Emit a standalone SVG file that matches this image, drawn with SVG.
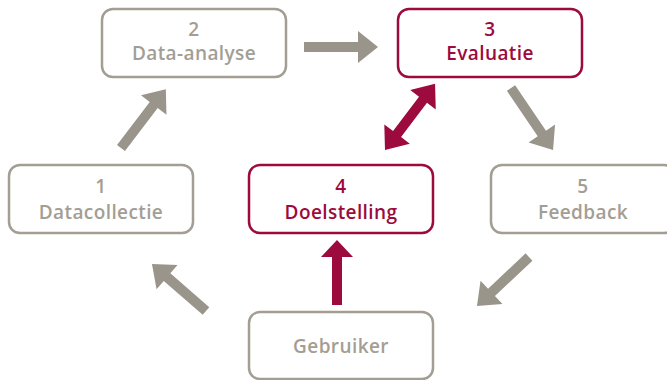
<svg xmlns="http://www.w3.org/2000/svg" width="667" height="380" viewBox="0 0 667 380">
<style>
.box{fill:#fff;stroke-width:2.5}
.g{stroke:#a39e94}
.r{stroke:#9c0a3e}
.t{font-family:"Open Sans",Lato,"Liberation Sans",sans-serif;font-weight:600;font-size:19px;letter-spacing:0.4px;text-anchor:middle}
.tg{fill:#a39e94}
.tr{fill:#9c0a3e}
.ag{fill:#99958a}
.ar{fill:#9c0a3e}
</style>
<rect width="667" height="380" fill="#fff"/>
<g id="connectors">
<polygon class="ag" transform="translate(304,47)" points="0,-5 54,-5 54,-16 74,0 54,16 54,5 0,5"/>
<polygon class="ag" transform="translate(511,88) rotate(55.9)" points="0,-5 55,-5 55,-16 75,0 55,16 55,5 0,5"/>
<polygon class="ag" transform="translate(529,257) rotate(136.7)" points="0,-5 51.5,-5 51.5,-16 71.5,0 51.5,16 51.5,5 0,5"/>
<polygon class="ag" transform="translate(206,311) rotate(221)" points="0,-5 51.6,-5 51.6,-16 71.6,0 51.6,16 51.6,5 0,5"/>
<polygon class="ag" transform="translate(121,148) rotate(-52.7)" points="0,-5 54,-5 54,-16 74,0 54,16 54,5 0,5"/>
<polygon class="ar" transform="translate(337,305) rotate(-90)" points="0,-5 48,-5 48,-16 65,0 48,16 48,5 0,5"/>
<polygon class="ar" transform="translate(385,150) rotate(-52.9)" points="0,0 20,-16 20,-5 63,-5 63,-16 83,0 63,16 63,5 20,5 20,16"/>
</g>
<g id="node1">
<rect class="box g" x="9" y="165" width="184" height="68" rx="11"/>
<text class="t tg" x="101" y="193">1</text>
<text class="t tg" x="101" y="219">Datacollectie</text>
</g>
<g id="node2">
<rect class="box g" x="102" y="9" width="184" height="68" rx="11"/>
<text class="t tg" x="194" y="36">2</text>
<text class="t tg" x="194" y="60">Data-analyse</text>
</g>
<g id="node3">
<rect class="box r" x="398" y="9" width="184" height="68" rx="11"/>
<text class="t tr" x="490" y="36">3</text>
<text class="t tr" x="490" y="60">Evaluatie</text>
</g>
<g id="node4">
<rect class="box r" x="249" y="165" width="184" height="68" rx="11"/>
<text class="t tr" x="341" y="193">4</text>
<text class="t tr" x="341" y="219">Doelstelling</text>
</g>
<g id="node5">
<rect class="box g" x="491" y="165" width="184" height="68" rx="11"/>
<text class="t tg" x="583" y="193">5</text>
<text class="t tg" x="583" y="219">Feedback</text>
</g>
<g id="gebruiker">
<rect class="box g" x="249" y="312" width="184" height="67" rx="11"/>
<text class="t tg" x="341" y="353">Gebruiker</text>
</g>
</svg>
